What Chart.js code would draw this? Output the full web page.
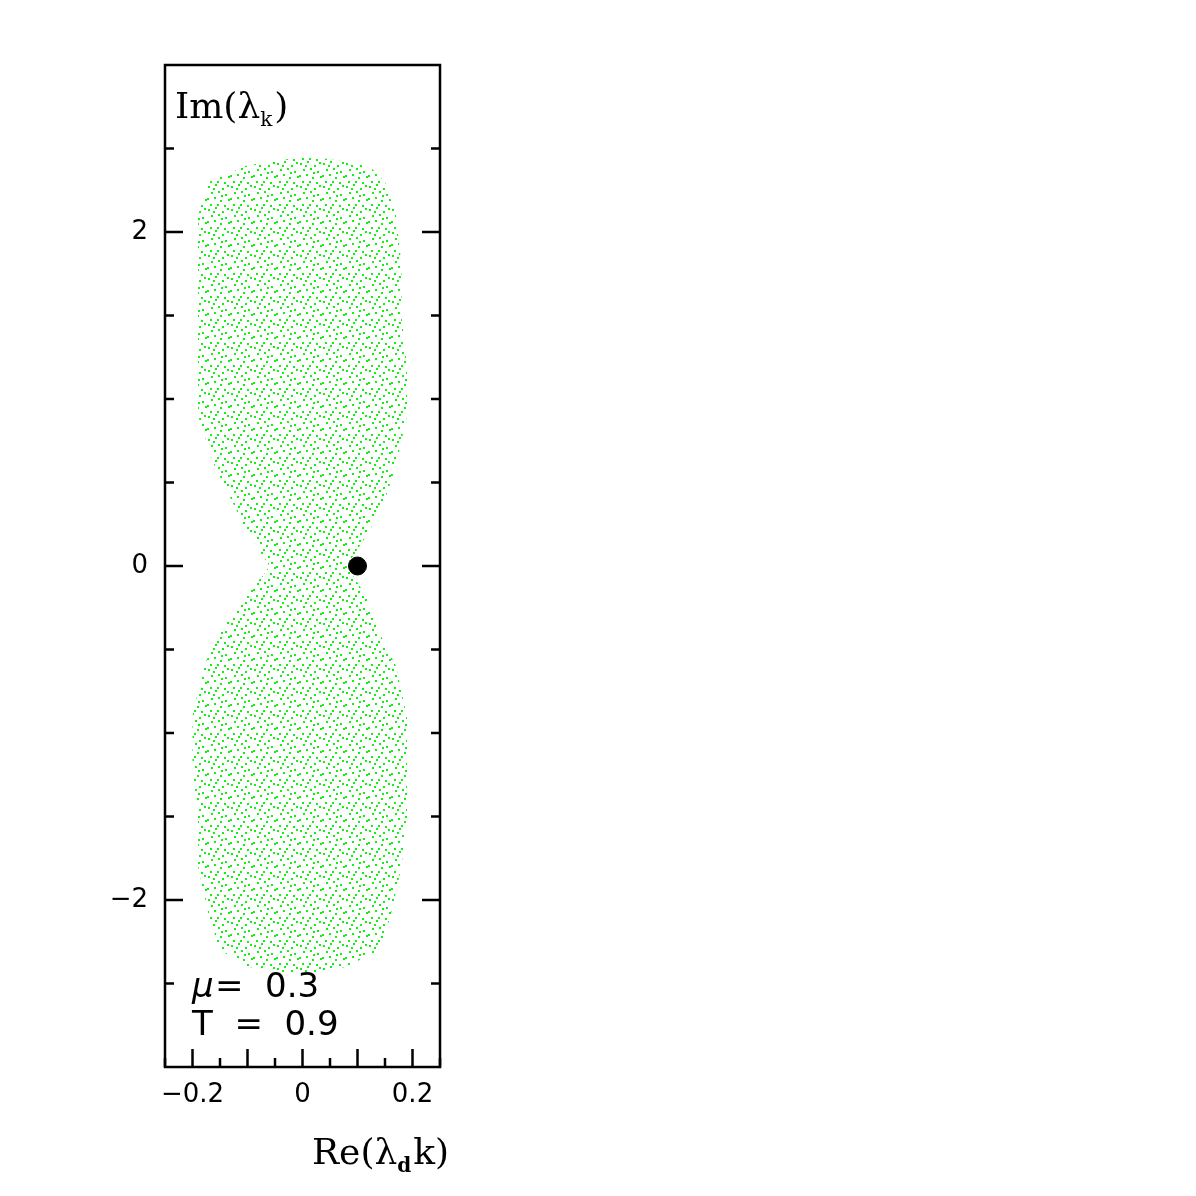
<!DOCTYPE html>
<html>
<head>
<meta charset="utf-8">
<script src="https://cdn.jsdelivr.net/npm/chart.js@4/dist/chart.umd.min.js"></script>
<style>
  html, body { margin: 0; background: #fff; }
  #wrap { width: 1196px; height: 1196px; }
</style>
</head>
<body>
<div id="wrap"><canvas id="c"></canvas></div>
<script>
// outline of the eigenvalue cloud
const imVals  = [2.45, 2.4, 2.3, 2.1, 1.8, 1.5, 1.2, 0.9, 0.6, 0.4, 0.2, 0.05, 0, -0.05, -0.2, -0.4, -0.6, -0.9, -1.2, -1.5, -1.8, -2.1, -2.3, -2.4, -2.45];
const leftRe  = [0.0, -0.10, -0.17, -0.19, -0.19, -0.19, -0.19, -0.19, -0.16, -0.13, -0.10, -0.07, -0.06, -0.07, -0.11, -0.15, -0.18, -0.20, -0.20, -0.19, -0.19, -0.17, -0.15, -0.10, 0.0];
const rightRe = [0.02, 0.12, 0.15, 0.17, 0.18, 0.18, 0.19, 0.19, 0.17, 0.15, 0.12, 0.09, 0.08, 0.09, 0.12, 0.14, 0.17, 0.19, 0.19, 0.19, 0.18, 0.16, 0.14, 0.08, 0.0];
const marker = [{ x: 0.1, y: 0 }];

const xMinor = [-0.25, -0.2, -0.15, -0.1, -0.05, 0, 0.05, 0.1, 0.15, 0.2, 0.25];
const xMajor = [-0.2, -0.1, 0, 0.1, 0.2];
const xLabels = [-0.2, 0, 0.2];
const yMinor = [-2.5, -2, -1.5, -1, -0.5, 0, 0.5, 1, 1.5, 2, 2.5];
const yMajor = [-2, 0, 2];
const yLabels = [-2, 0, 2];

const fmt = v => (v < 0 ? "\u2212" : "") + Math.abs(v);

function dotPattern(ctx) {
  const p = document.createElement("canvas");
  p.width = 23; p.height = 23;
  const g = p.getContext("2d");
  g.fillStyle = "#14f014";
  [[1, 2], [8, 0], [15, 4], [20, 1], [4, 8], [11, 7], [18, 10], [0, 14], [7, 13],
   [13, 16], [21, 15], [3, 20], [10, 20], [17, 21], [6, 4], [14, 11]].forEach(([a, b]) => g.fillRect(a, b, 2, 2));
  return ctx.createPattern(p, "repeat");
}

const cloudPlugin = {
  id: "cloud",
  beforeDatasetsDraw(chart) {
    const { ctx, scales: { x, y }, chartArea: a } = chart;
    ctx.save();
    ctx.beginPath();
    ctx.rect(a.left, a.top, a.width, a.height);
    ctx.clip();
    ctx.beginPath();
    imVals.forEach((v, i) => {
      const px = x.getPixelForValue(leftRe[i]), py = y.getPixelForValue(v);
      i ? ctx.lineTo(px, py) : ctx.moveTo(px, py);
    });
    for (let i = imVals.length - 1; i >= 0; i--) {
      ctx.lineTo(x.getPixelForValue(rightRe[i]), y.getPixelForValue(imVals[i]));
    }
    ctx.closePath();
    ctx.fillStyle = dotPattern(ctx);
    ctx.fill();
    ctx.restore();
  },
  afterDraw(chart) {
    const { ctx, scales: { x, y }, chartArea: a } = chart;
    ctx.save();
    ctx.strokeStyle = "#000";
    ctx.lineWidth = 2.5;
    ctx.strokeRect(a.left, a.top, a.width, a.height);
    ctx.beginPath();
    xMinor.forEach(v => {
      const px = x.getPixelForValue(v), len = xMajor.includes(v) ? 18 : 9;
      ctx.moveTo(px, a.bottom); ctx.lineTo(px, a.bottom - len);
    });
    yMinor.forEach(v => {
      const py = y.getPixelForValue(v), len = yMajor.includes(v) ? 18 : 9;
      ctx.moveTo(a.left, py); ctx.lineTo(a.left + len, py);
      ctx.moveTo(a.right, py); ctx.lineTo(a.right - len, py);
    });
    ctx.stroke();

    ctx.fillStyle = "#000";
    ctx.font = "26px 'DejaVu Sans'";
    ctx.textAlign = "center"; ctx.textBaseline = "middle";
    xLabels.forEach(v => ctx.fillText(fmt(v), x.getPixelForValue(v), a.bottom + 28));
    ctx.textAlign = "right";
    yLabels.forEach(v => ctx.fillText(fmt(v), a.left - 17, y.getPixelForValue(v)));

    ctx.textAlign = "left"; ctx.textBaseline = "alphabetic";
    ctx.font = "36px 'DejaVu Serif'";
    ctx.fillText("Im(\u03bb", a.left + 10, a.top + 53);
    let w = ctx.measureText("Im(\u03bb").width;
    ctx.font = "20px 'DejaVu Serif'";
    ctx.fillText("k", a.left + 10 + w, a.top + 61);
    let w2 = ctx.measureText("k").width;
    ctx.font = "36px 'DejaVu Serif'";
    ctx.fillText(")", a.left + 12 + w + w2, a.top + 53);

    const rx = 312, ry = a.bottom + 97;
    ctx.fillText("Re(\u03bb", rx, ry);
    w = ctx.measureText("Re(\u03bb").width;
    ctx.font = "bold 20px 'DejaVu Serif'";
    ctx.fillText("d", rx + w, ry + 8);
    w2 = ctx.measureText("d").width;
    ctx.font = "36px 'DejaVu Serif'";
    ctx.fillText("k)", rx + w + w2 + 2, ry);

    ctx.font = "italic 34px 'DejaVu Sans'";
    ctx.fillText("\u03bc", a.left + 27, a.bottom - 70);
    ctx.font = "34px 'DejaVu Sans'";
    ctx.fillText("=  0.3", a.left + 50, a.bottom - 70);
    ctx.fillText("T  =  0.9", a.left + 27, a.bottom - 32);
    ctx.restore();
  }
};

new Chart(document.getElementById("c"), {
  type: "scatter",
  data: {
    datasets: [{
      data: marker,
      backgroundColor: "#000",
      borderColor: "#000",
      pointRadius: 9
    }]
  },
  options: {
    responsive: true,
    maintainAspectRatio: false,
    animation: false,
    layout: { padding: { left: 165, top: 65, right: 756, bottom: 129 } },
    plugins: { legend: { display: false }, tooltip: { enabled: false } },
    scales: {
      x: { type: "linear", min: -0.25, max: 0.25, display: false },
      y: { type: "linear", min: -3, max: 3, display: false }
    }
  },
  plugins: [cloudPlugin]
});
</script>
</body>
</html>
